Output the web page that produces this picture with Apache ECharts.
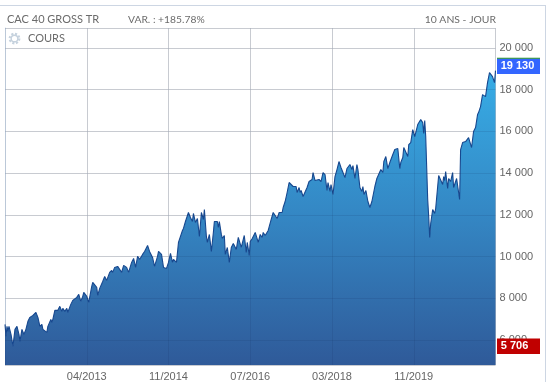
<!DOCTYPE html>
<html>
<head>
<meta charset="utf-8">
<style>html,body{margin:0;padding:0;background:#fff}#c{width:549px;height:382px}</style>
<script src="https://cdn.jsdelivr.net/npm/echarts@6/dist/echarts.min.js"></script>
</head>
<body>
<div id="c"></div>
<script>
const tickLabels = ['', '04/2013', '11/2014', '07/2016', '03/2018', '11/2019', ''];
const weeks = [0,1,2,3,4,6,8,10,12,13,14,15,17,19,21,23,25,28,31,33,35,37,38,42,43,46,47,48,50,52,53,55,57,58,60,62,63,66,68,72,74,76,78,79,82,84,87,88,90,92,93,95,
98,100,102,105,107,108,110,113,115,117,119,121,122,124,127,129,131,133,135,138,140,143,145,148,150,153,154,157,159,162,164,166,168,169,172,174,175,178,179,181,183,184,186,188,189,191,193,195,
196,197,199,200,202,203,205,207,209,210,213,214,215,217,218,220,221,223,225,227,229,232,234,237,238,240,242,243,245,246,248,249,251,253,254,256,258,259,261,264,267,269,271,273,275,278,279,281,283,285,287,289,292,293,295,296,
297,299,300,303,305,308,309,311,313,315,317,319,321,323,324,326,327,329,331,333,335,337,339,341,343,344,346,348,349,351,353,354,356,358,359,360,362,364,366,368,371,373,377,379,380,382,384,386,389,391,394,396,397,
399,400,402,404,405,407,409,410,411,414,415,417,419,420,421,422,424,425,426,427,428,429,431,432,434,435,437,439,440,441,442,444,445,447,449,450,453,454,456,457,459,462,464,465,468,470,472,474,475,477,479,482,484,486,489,491,492];
const closes = [6751,6178,6656,6417,6656,6273,5706,6512,6656,6640,6273,5938,6512,6273,6512,6895,7087,7183,7327,7087,6656,6752,6512,6369,6656,6991,6847,6991,7422,7327,7422,7614,7374,7518,7374,7518,7327,7709,7901,8045,8188,7853,8093,8284,8093,7805,8571,8762,8810,8523,8140,8476,
8810,9049,8858,9241,9337,9241,9481,9529,9577,9241,9577,9624,9481,9241,9720,9912,9481,10008,9864,10104,10247,10535,10247,9960,9529,10008,10247,10104,9481,9433,9720,10151,9720,9864,9720,10678,10726,11252,11348,11683,11635,12114,11875,11683,12066,11635,11827,10965,
11539,12114,11779,12258,10965,10678,11061,10247,11157,11683,11683,11396,11683,11061,10870,11013,10104,10438,9720,10438,10630,10343,10917,10438,10486,11013,10199,10678,10056,10726,10870,10917,11157,11157,10678,11061,10917,11157,11013,11252,11779,12114,12114,11827,12114,12114,12354,12641,13072,13551,13551,13360,13360,13072,13312,13072,
13168,12881,12929,13312,13599,13695,14030,13647,13695,13695,13599,14030,13934,13168,13551,13120,13456,12976,13838,14173,14556,14269,14269,13791,14221,14221,14413,14173,14365,13743,14413,14173,13312,13120,13360,12976,13168,12641,12354,12641,13360,13743,14173,14030,14556,14796,14221,14508,14892,15131,15179,14221,14508,
14748,15227,15179,14796,15370,15466,16089,16137,15754,16328,16376,16567,16424,15898,16520,15754,12737,11923,10917,11588,11540,12258,12066,12306,12354,13886,13886,13456,13838,13647,14078,13264,13743,13599,14030,13312,13743,13695,12737,15131,15466,15514,15514,15706,15227,15993,16185,16807,16903,17190,17765,17669,18340,18818,18627,18340,18913];
const lastLabel = '19 130', lastValue = 19130;
const lowLabel = '5 706', lowValue = 5706;
const axisMin = 4803, axisMax = 20958;
const weekMax = 492, weekStep = 82;

const fmt = v => (v % 2000 === 0) ? String(v).replace(/(\d)(\d{3})$/, '$1 $2') : '';
const head = (x, y, text, align, size) => ({type:'text', x, y, style:{text, fill:'#6b6b6b', font:(size||11)+'px Lato, sans-serif', align:align||'left', verticalAlign:'middle'}});
const edgeWeek = weeks[weeks.length-1];

const chart = echarts.init(document.getElementById('c'), null, {renderer:'canvas'});
chart.setOption({
  animation:false,
  backgroundColor:'#fff',
  grid:{left:5, top:28, right:53.5, bottom:16.3, containLabel:false},
  xAxis:[{
    type:'value', min:0, max:weekMax, interval:weekStep, z:0,
    axisLine:{show:false}, axisTick:{show:false},
    splitLine:{show:true, lineStyle:{color:'#e2e2e2', width:1}},
    axisLabel:{margin:6, color:'#666', fontSize:11, fontFamily:'Liberation Sans, Arial, sans-serif',
      formatter:v => tickLabels[Math.round(v/weekStep)] || ''}
  },{
    type:'value', position:'top', min:0, max:weekMax, interval:weekStep, z:3,
    axisLine:{show:false}, axisTick:{show:false}, axisLabel:{show:false},
    splitLine:{show:true, lineStyle:{color:'rgba(20,40,90,0.12)', width:1}}
  }],
  yAxis:[{
    type:'value', position:'right', min:axisMin, max:axisMax, splitNumber:8, z:0,
    axisLine:{show:true, lineStyle:{color:'#d3deea', width:1}}, axisTick:{show:false},
    splitLine:{show:true, lineStyle:{color:'#e2e2e2', width:1}},
    axisLabel:{margin:4, color:'#666', fontSize:11, fontFamily:'Liberation Sans, Arial, sans-serif',
      padding:[0,0,7,0], formatter:fmt}
  },{
    type:'value', position:'right', min:axisMin, max:axisMax, splitNumber:8, z:3,
    axisLine:{show:false}, axisTick:{show:false}, axisLabel:{show:false},
    splitLine:{show:true, lineStyle:{color:'rgba(20,40,90,0.12)', width:1}}
  }],
  series:[{
    type:'line', z:2, symbol:'none', smooth:false,
    data:weeks.map((w,i)=>[w,closes[i]]),
    lineStyle:{color:'#17488f', width:1.1},
    areaStyle:{origin:'start', opacity:1, color:new echarts.graphic.LinearGradient(0,0,0,1,[
      {offset:0,color:'#37ade6'},{offset:0.5,color:'#3486c3'},{offset:1,color:'#2f5a99'}])},
    markPoint:{
      silent:true, animation:false,
      data:[
        {coord:[edgeWeek,lastValue], symbol:'rect', symbolSize:[43,15.5], symbolOffset:[23,0],
         itemStyle:{color:'#3366ff'},
         label:{show:true, formatter:lastLabel, position:'inside', offset:[-1,0], color:'#fff', fontWeight:'bold', fontSize:11, fontFamily:'Liberation Sans, Arial, sans-serif'}},
        {coord:[edgeWeek,lastValue], symbol:'rect', symbolSize:[43,1], symbolOffset:[23,-8],
         itemStyle:{color:'#1f8a2c'}, label:{show:false}},
        {coord:[edgeWeek,lowValue], symbol:'rect', symbolSize:[43,15.5], symbolOffset:[23,0],
         itemStyle:{color:'#c00000'},
         label:{show:true, formatter:lowLabel, position:'inside', offset:[-4,0], color:'#fff', fontWeight:'bold', fontSize:11, fontFamily:'Liberation Sans, Arial, sans-serif'}}
      ]
    }
  }],
  graphic:[
    {type:'rect', shape:{x:0,y:5,width:546,height:1}, style:{fill:'#cdd6e3'}},
    {type:'rect', shape:{x:545,y:5,width:1,height:377}, style:{fill:'#cdd6e3'}},
    head(7,19.5,'CAC 40 GROSS TR'),
    head(128,19.5,'VAR. : +185.78%','left',10.3),
    head(496,19.5,'10 ANS - JOUR','right',10.4),
    head(28,38.5,'COURS'),
    {type:'circle', shape:{cx:14.5,cy:38.5,r:4.6}, style:{fill:'none', stroke:'#c6d2de', lineWidth:2.6, lineDash:[2,1.6]}},
    {type:'circle', shape:{cx:14.5,cy:38.5,r:3.3}, style:{fill:'#fff', stroke:'#c6d2de', lineWidth:1.4}}
  ]
});
</script>
</body>
</html>
